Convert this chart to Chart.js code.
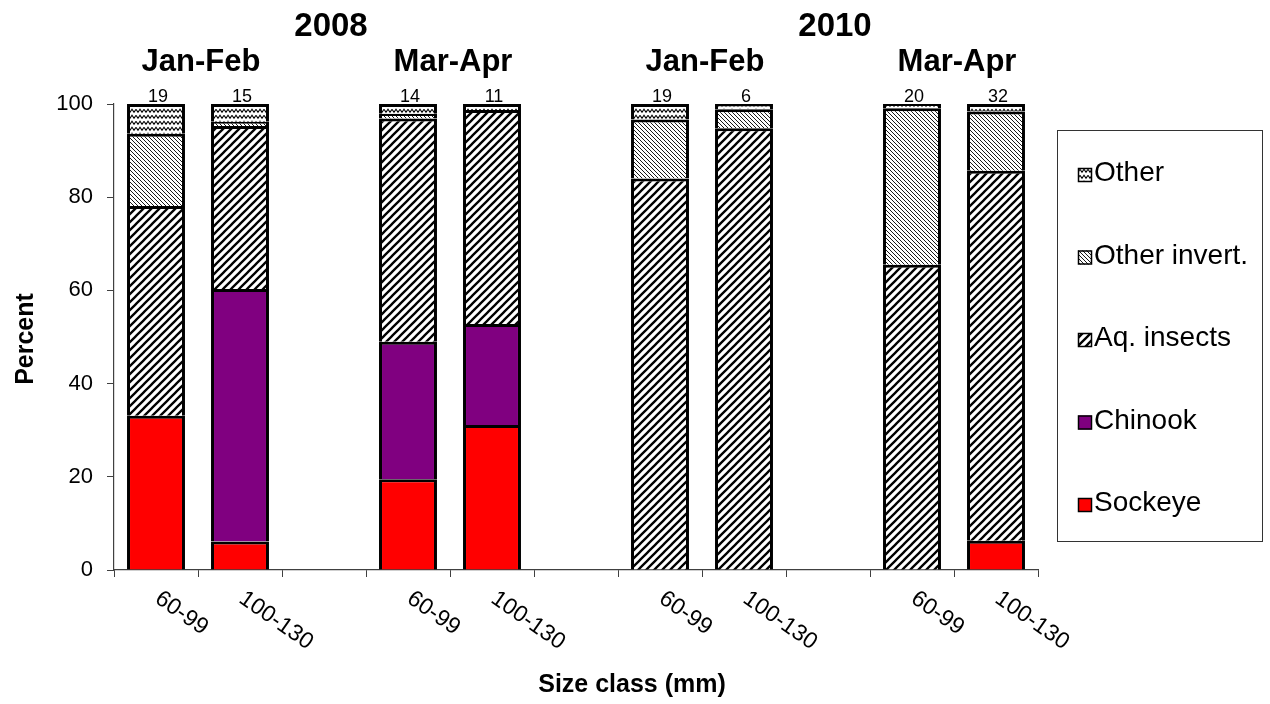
<!DOCTYPE html>
<html>
<head>
<meta charset="utf-8">
<script src="https://cdn.jsdelivr.net/npm/chart.js@4.4.1/dist/chart.umd.min.js"></script>
<style>
body { margin: 0; background: #fff; }
#wrap { width: 1270px; height: 704px; }
</style>
</head>
<body>
<div id="wrap"><canvas id="dietChart" width="1270" height="704"></canvas></div>
<script>
// valeurs (pourcentages empilés)
var sizeClasses = ['60-99', '100-130', '', '60-99', '100-130', '', '60-99', '100-130', '', '60-99', '100-130'];
var sockeye     = [33.1, 6.1, null, 19.5, 31.1, null, null, null, null, null, 6.3];
var chinook     = [null, 54.2, null, 29.5, 21.7, null, null, null, null, null, null];
var aqInsects   = [45.0, 35.0, null, 47.9, 45.9, null, 84.0, 94.8, null, 65.5, 79.4];
var otherInvert = [15.5, 0.9, null, 1.0, null, null, 12.7, 4.1, null, 33.6, 12.7];
var other       = [6.4, 3.8, null, 2.1, 1.3, null, 3.3, 1.1, null, 0.9, 1.6];
var sampleN     = [19, 15, null, 14, 11, null, 19, 6, null, 20, 32];
var seasons     = ['Jan-Feb', 'Mar-Apr', 'Jan-Feb', 'Mar-Apr'];
var seasonStart = [0, 3, 6, 9];
var years       = ['2008', '2010'];
var yTicks      = [0, 20, 40, 60, 80, 100];

var FONT = 'Arial, "Liberation Sans", sans-serif';

// motifs de remplissage (hachures)
function makePattern(w, h, draw) {
  var cv = document.createElement('canvas');
  cv.width = w; cv.height = h;
  var g = cv.getContext('2d');
  g.fillStyle = '#fff';
  g.fillRect(0, 0, w, h);
  g.strokeStyle = '#000';
  draw(g);
  return g.createPattern(cv, 'repeat');
}

var aqPattern = makePattern(8, 8, function (g) {
  g.lineWidth = 2.3;
  g.beginPath();
  g.moveTo(-1, 9); g.lineTo(9, -1);
  g.moveTo(-3, 3); g.lineTo(3, -3);
  g.moveTo(5, 11); g.lineTo(11, 5);
  g.stroke();
});
var invertPattern = makePattern(4, 4, function (g) {
  g.lineWidth = 0.9;
  g.beginPath();
  g.moveTo(-1, -1); g.lineTo(5, 5);
  g.moveTo(-1, 3); g.lineTo(1, 5);
  g.moveTo(3, -1); g.lineTo(5, 1);
  g.stroke();
});
var otherPattern = makePattern(8, 6, function (g) {
  g.lineWidth = 1.1;
  g.beginPath();
  g.moveTo(0, 1.2); g.lineTo(2, 4.2); g.lineTo(4, 1.2); g.lineTo(6, 4.2); g.lineTo(8, 1.2);
  g.stroke();
});

var datasets = [
  { label: 'Sockeye', data: sockeye, backgroundColor: '#ff0000' },
  { label: 'Chinook', data: chinook, backgroundColor: '#800080' },
  { label: 'Aq. insects', data: aqInsects, backgroundColor: aqPattern },
  { label: 'Other invert.', data: otherInvert, backgroundColor: invertPattern },
  { label: 'Other', data: other, backgroundColor: otherPattern }
];
datasets.forEach(function (d) {
  d.borderColor = '#000';
  d.borderWidth = 3;
  d.barPercentage = 0.69;
  d.categoryPercentage = 1.0;
});

// textes, titres et légende dessinés à la main
var decor = {
  id: 'decor',
  afterDraw: function (chart) {
    var c = chart.ctx, xs = chart.scales.x, area = chart.chartArea;
    c.save();
    c.fillStyle = '#000';

    // effectifs au-dessus des barres
    c.font = '18px ' + FONT;
    c.textAlign = 'center';
    c.textBaseline = 'alphabetic';
    sampleN.forEach(function (n, i) {
      if (n === null) return;
      c.fillText(String(n), xs.getPixelForValue(i) + 2, 102);
    });

    // saisons
    c.font = 'bold 31px ' + FONT;
    seasons.forEach(function (s, i) {
      var cx = (xs.getPixelForValue(seasonStart[i]) + xs.getPixelForValue(seasonStart[i] + 1)) / 2;
      c.fillText(s, cx + 3, 71);
    });

    // années
    c.font = 'bold 33px ' + FONT;
    years.forEach(function (yr, i) {
      var a = seasonStart[2 * i], b = seasonStart[2 * i + 1] + 1;
      var cx = (xs.getPixelForValue(a) + xs.getPixelForValue(b)) / 2;
      c.fillText(yr, cx + 7, 36);
    });

    // étiquettes de l'axe x, inclinées
    c.font = '23px ' + FONT;
    c.textAlign = 'left';
    c.textBaseline = 'top';
    sizeClasses.forEach(function (lab, i) {
      if (!lab) return;
      c.save();
      c.translate(xs.getPixelForValue(i) + 8, area.bottom + 17);
      c.rotate(35 * Math.PI / 180);
      c.fillText(lab, 0, 0);
      c.restore();
    });

    // titres des axes
    c.textBaseline = 'alphabetic';
    c.textAlign = 'center';
    c.font = 'bold 25px ' + FONT;
    c.fillText('Size class (mm)', 632, 692);
    c.save();
    c.translate(33, (area.top + area.bottom) / 2 + 2);
    c.rotate(-Math.PI / 2);
    c.fillText('Percent', 0, 0);
    c.restore();

    // légende
    c.strokeStyle = '#333';
    c.lineWidth = 1;
    c.strokeRect(1057.5, 130.5, 205, 411);
    c.font = '28px ' + FONT;
    c.textAlign = 'left';
    var items = chart.data.datasets.slice().reverse();
    items.forEach(function (d, k) {
      var base = 181 + k * 82.5;
      c.fillStyle = d.backgroundColor;
      c.fillRect(1078, base - 13, 14, 14);
      c.strokeStyle = '#000';
      c.lineWidth = 1.5;
      c.strokeRect(1078.5, base - 12.5, 13, 13);
      c.fillStyle = '#000';
      c.fillText(d.label, 1094, base);
    });
    c.restore();
  }
};

var ctx = document.getElementById('dietChart');

var dietChart = new Chart(ctx, {
  type: 'bar',
  data: { labels: sizeClasses, datasets: datasets },
  options: {
    responsive: false,
    animation: false,
    layout: { padding: { top: 104, right: 232, left: 0, bottom: 0 } },
    plugins: { legend: { display: false }, tooltip: { enabled: false } },
    scales: {
      x: {
        stacked: true,
        ticks: { display: false },
        grid: { drawOnChartArea: false, tickLength: 7, color: '#404040', offset: true },
        border: { color: '#404040', width: 1.2 },
        afterFit: function (scale) { scale.height = 134; }
      },
      y: {
        stacked: true,
        min: yTicks[0],
        max: yTicks[yTicks.length - 1],
        ticks: { stepSize: yTicks[1] - yTicks[0], color: '#000', padding: 14, font: { size: 22, family: FONT } },
        grid: { drawOnChartArea: false, tickLength: 7, color: '#404040' },
        border: { color: '#404040', width: 1.2 },
        afterFit: function (scale) { scale.width = 114; }
      }
    }
  },
  plugins: [decor]
});
</script>
</body>
</html>
